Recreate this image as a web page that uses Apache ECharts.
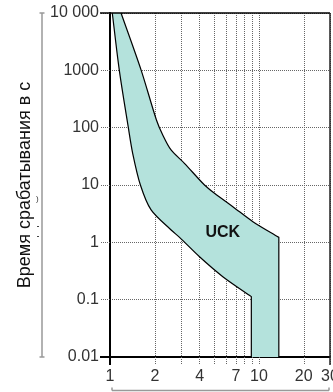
<!DOCTYPE html>
<html><head><meta charset="utf-8">
<script src="https://cdn.jsdelivr.net/npm/echarts@6/dist/echarts.min.js"></script>
<style>html,body{margin:0;padding:0;background:#fff}#c{width:333px;height:392px}</style>
</head><body><div id="c"></div>
<script>
// ---- data ----
const xTickValues = [1, 2, 3, 4, 5, 6, 7, 8, 9, 10, 20, 30];
const xLabelValues = [1, 2, 4, 7, 10, 20, 30];
const yLabelValues = [0.01, 0.1, 1, 10, 100, 1000, 10000];
const upperX = [1.186, 1.62, 2.05, 2.26, 2.57, 3.16, 4.31, 5.03, 6.68, 9.11, 13.6, 13.6];
const upperY = [10000, 1000, 136, 74.5, 40.8, 23.9, 10, 7.16, 4.19, 2.29, 1.22, 0.01];
const lowerX = [1.036, 1.155, 1.328, 1.42, 1.60, 1.888, 2.573, 2.93, 3.99, 5.72, 8.89, 8.89];
const lowerY = [10000, 1000, 100, 35.7, 10, 3.67, 1.64, 1.22, 0.56, 0.252, 0.113, 0.01];
const bandName = 'UCK';
const bandLabelAt = [5.72, 1.49];
const yTitle = 'Время срабатывания в с';
const xMin = 1, xMax = 30, yMin = 0.01, yMax = 10000;

const FONT = '"Liberation Sans", Arial, sans-serif';
const SMOOTH = 0.3;
const upperPts = upperX.map((x, i) => [x, upperY[i]]);
const lowerPts = lowerX.map((x, i) => [x, lowerY[i]]);
const fmtY = v => { const n = Number(Number(v).toPrecision(6)); return n === 10000 ? '10 000' : String(n); };
const fmtX = v => { const n = Number(Number(v).toPrecision(6)); return xLabelValues.indexOf(n) >= 0 ? String(n) : ''; };
// duplicate the sharp corner points so the bezier smoothing keeps them sharp
function withCorners(pts, cornerIdx) {
  const out = [];
  pts.forEach((p, i) => { out.push(p); if (cornerIdx.indexOf(i) >= 0) out.push(p.slice()); });
  return out;
}

const chart = echarts.init(document.getElementById('c'), null, {renderer: 'canvas'});
const gridStyle = {color: '#666', width: 1, type: 'dotted'};

chart.setOption({
  animation: false,
  backgroundColor: '#fff',
  grid: {left: 110, top: 13, right: 3, bottom: 35, containLabel: false, outerBoundsMode: 'none'},
  xAxis: {
    type: 'log', logBase: 10, min: xMin, max: xMax,
    axisLine: {lineStyle: {color: '#000', width: 2}},
    axisTick: {show: true, customValues: xTickValues, length: 8, lineStyle: gridStyle},
    splitLine: {show: true, lineStyle: gridStyle},
    minorTick: {show: false}, minorSplitLine: {show: false},
    axisLabel: {customValues: xTickValues, margin: 12, color: '#333', fontSize: 16, fontFamily: FONT, formatter: fmtX, hideOverlap: false}
  },
  yAxis: {
    type: 'log', logBase: 10, min: yMin, max: yMax,
    name: yTitle, nameLocation: 'middle', nameGap: 76,
    nameTextStyle: {color: '#111', fontSize: 18, fontFamily: FONT},
    axisLine: {lineStyle: {color: '#000', width: 2}},
    axisTick: {show: true, customValues: yLabelValues, length: 10, lineStyle: gridStyle},
    splitLine: {show: true, lineStyle: gridStyle},
    axisLabel: {customValues: yLabelValues, margin: 11, color: '#333', fontSize: 16, fontFamily: FONT, formatter: fmtY}
  },
  graphic: [
    {type: 'text', left: 36, top: 195, style: {text: ')', fontSize: 8, fill: '#333', font: '8px ' + FONT}, silent: true},
    {type: 'rect', left: 37, top: 226, shape: {width: 2, height: 1}, style: {fill: '#444'}, silent: true},
    {type: 'rect', left: 37, top: 236, shape: {width: 2, height: 1}, style: {fill: '#444'}, silent: true}
  ],
  series: [
    {
      type: 'custom', name: 'band', coordinateSystem: 'cartesian2d', clip: false, z: 2,
      data: [[bandLabelAt[0], bandLabelAt[1]]],
      renderItem: (params, api) => {
        const up = withCorners(upperPts, [0, upperPts.length - 2, upperPts.length - 1]).map(p => api.coord(p));
        const lo = withCorners(lowerPts, [0, lowerPts.length - 2, lowerPts.length - 1]).map(p => api.coord(p));
        const poly = up.concat(lo.slice().reverse());
        const lab = api.coord(bandLabelAt);
        const edge = pts => ({type: 'polyline', shape: {points: pts, smooth: SMOOTH}, style: {stroke: '#000', lineWidth: 1.2, fill: null}});
        return {type: 'group', children: [
          {type: 'polygon', shape: {points: poly, smooth: SMOOTH}, style: {fill: '#b4e2dc', stroke: null}},
          edge(up), edge(lo),
          {type: 'text', x: lab[0], y: lab[1], style: {text: bandName, fill: '#111', font: 'bold 16px ' + FONT, align: 'center', verticalAlign: 'middle'}}
        ]};
      }
    },
    {
      type: 'custom', name: 'frame', coordinateSystem: 'cartesian2d', clip: false, z: 4, silent: true,
      data: [[xMin, yMin]],
      renderItem: (params, api) => {
        const bl = api.coord([xMin, yMin]);
        const tr = api.coord([xMax, yMax]);
        const ln = (x1, y1, x2, y2, c, w) => ({type: 'line', shape: {x1, y1, x2, y2}, style: {stroke: c, lineWidth: w}});
        const bx = bl[0] - 68, by = bl[1] + 33.5;
        return {type: 'group', children: [
          ln(bl[0] - 10, tr[1], tr[0], tr[1], '#000', 1.5),
          ln(tr[0], tr[1], tr[0], bl[1] + 8, '#222', 1.5),
          ln(bl[0], bl[1], bl[0], bl[1] + 8, '#000', 2),
          ln(bl[0] - 10, bl[1], bl[0], bl[1], '#000', 2),
          ln(bx, tr[1], bx, bl[1], '#999', 1.5),
          ln(bx - 2.5, tr[1], bx + 2.5, tr[1], '#999', 1.5),
          ln(bx - 2.5, bl[1], bx + 2.5, bl[1], '#999', 1.5),
          ln(bl[0] + 2, by, tr[0] - 1, by, '#999', 1.5),
          ln(bl[0] + 2, by, bl[0] + 2, by - 3, '#999', 1.5),
          ln(tr[0] - 1, by, tr[0] - 1, by - 3, '#999', 1.5)
        ]};
      }
    }
  ]
});
</script></body></html>
